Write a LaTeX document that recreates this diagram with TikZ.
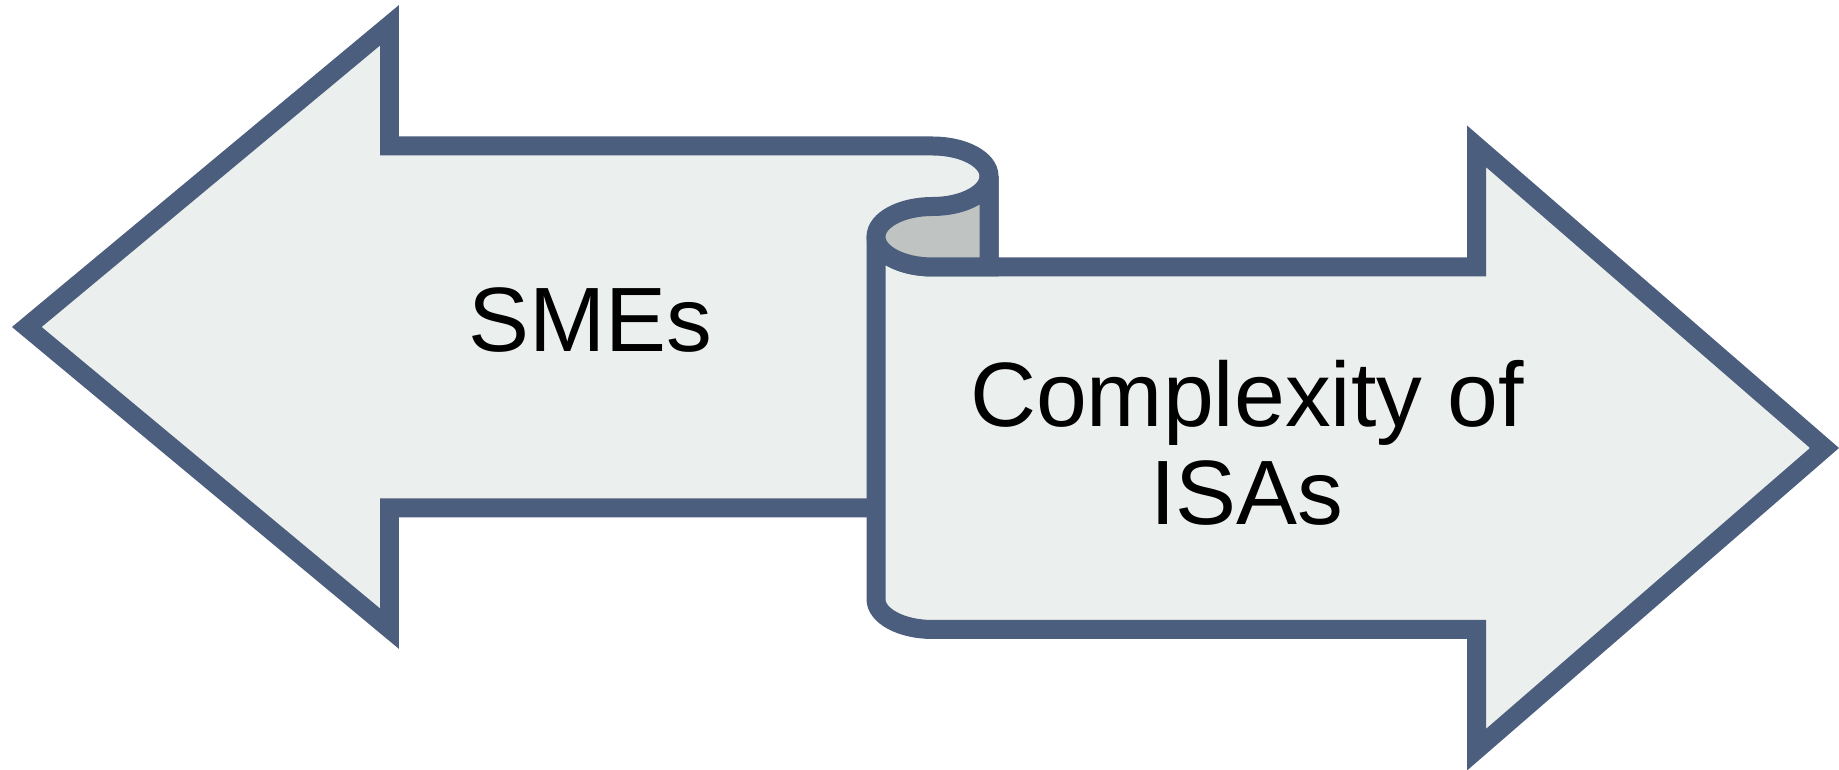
\documentclass[tikz,border=0pt]{standalone}
\usepackage{fontspec}
\setmainfont{Liberation Sans}
\usepackage{tikz}
\usetikzlibrary{positioning}
\definecolor{scrollblue}{RGB}{76, 94, 125}
\definecolor{scrollfill}{RGB}{235, 239, 237}
\definecolor{curlgray}{RGB}{191, 195, 194}

\tikzset{
    arrowshape/.style={draw=scrollblue, line width=5.4pt, fill=scrollfill, line join=miter},
    curlshape/.style={arrowshape, fill=curlgray},
    bigtext/.style={inner sep=0pt, align=center, text=black,
        font=\fontsize{26}{28}\selectfont}
}

\begin{document}
\begin{tikzpicture}[x=0.01cm, y=0.01cm]
\useasboundingbox (0,0) rectangle (1839,770);

% arrow pointing left, its shaft rolls up at the right end
\path[arrowshape] (26.8,443) -- (389.5,744.7) -- (389.5,624) -- (932.5,624)
    arc[start angle=90, end angle=0, x radius=56.5, y radius=30.25]
    -- (989,262) -- (389.5,262) -- (389.5,141.3) -- cycle;

% arrow pointing right
\path[arrowshape] (876,533.25) -- (876,170.75)
    arc[start angle=180, end angle=270, x radius=56.5, y radius=30.25]
    -- (1476.5,140.5) -- (1476.5,20.3) -- (1824.5,322) -- (1476.5,623.7)
    -- (1476.5,503) -- (932.5,503)
    arc[start angle=270, end angle=180, x radius=56.5, y radius=30.25] -- cycle;

% the curl between both
\path[curlshape] (989,593.75)
    arc[start angle=0, end angle=-90, x radius=56.5, y radius=30.25]
    arc[start angle=90, end angle=270, x radius=56.5, y radius=30.25]
    -- (989,503) -- cycle;

\node [bigtext] (smes) at (590.5,450.4) {SMEs};
\node [bigtext] (isas) at (1247,327) {Complexity of\\ISAs};
\end{tikzpicture}
\end{document}
